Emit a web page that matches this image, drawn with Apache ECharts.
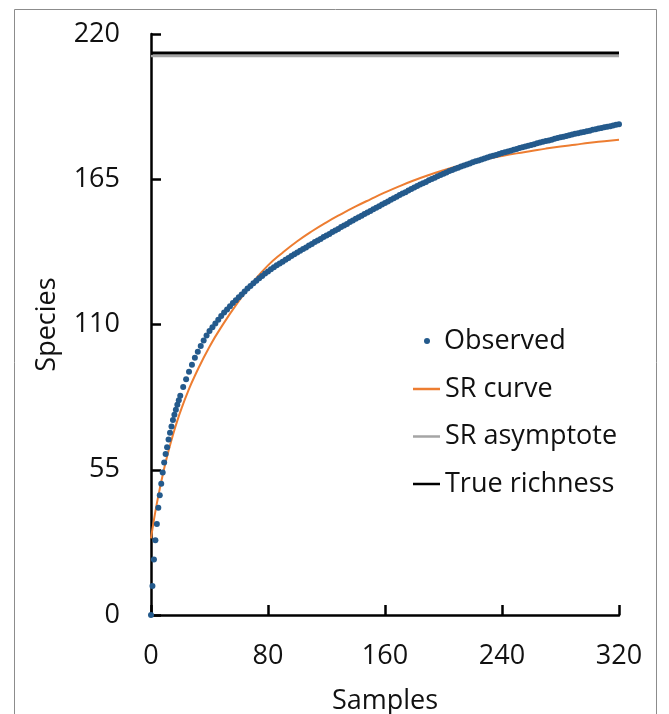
<!DOCTYPE html>
<html>
<head>
<meta charset="utf-8">
<script src="https://cdn.jsdelivr.net/npm/echarts@6/dist/echarts.min.js"></script>
<style>
html,body{margin:0;padding:0;background:#fff;}
#chart{width:669px;height:714px;}
</style>
</head>
<body>
<div id="chart"></div>
<script>
// ---- data ----
var xTicks = [0, 80, 160, 240, 320];
var yTicks = [0, 55, 110, 165, 220];

var obsSamples = [0,1,2,3,4,5,6,7,8,9,10,11,12,13,14,15,16,17,18,19,20,
  22,24,26,28,30,32,34,36,38,40,42,44,46,48,50,52,54,56,58,60,62,64,66,68,70,72,74,76,78,80,
  82,84,86,88,90,92,94,96,98,100,102,104,106,108,110,112,114,116,118,120,122,124,126,128,130,
  132,134,136,138,140,142,144,146,148,150,152,154,156,158,160,162,164,166,168,170,172,174,176,178,180,
  182,184,186,188,190,192,194,196,198,200,202,204,206,208,210,212,214,216,218,220,222,224,226,228,230,
  232,234,236,238,240,242,244,246,248,250,252,254,256,258,260,262,264,266,268,270,272,274,276,278,280,
  282,284,286,288,290,292,294,296,298,300,302,304,306,308,310,312,314,316,318,320];
var obsSpecies = [0,11,21,28.3,34.5,40.6,45.3,49.7,54,57.7,61,63.5,66.5,69,71.4,73.8,75.8,77.7,79.6,81.3,83,
  86.3,89.3,92.1,94.8,97.4,99.7,101.9,103.9,105.8,107.5,109,110.4,111.8,113.2,114.5,115.7,116.9,118.1,119.2,120.3,
  121.4,122.5,123.6,124.6,125.6,126.6,127.5,128.4,129.3,130.1,
  130.9,131.7,132.4,133.1,133.8,134.5,135.2,135.9,136.6,137.3,137.9,138.6,139.2,139.9,140.5,141.2,141.8,142.4,143.1,143.7,
  144.3,145,145.6,146.2,146.9,147.5,148.1,148.8,149.4,150,150.6,151.2,151.8,152.4,153,
  153.6,154.2,154.8,155.4,156,156.6,157.2,157.8,158.4,159,159.6,160.1,160.7,161.3,161.9,
  162.4,163,163.5,164,164.6,165.1,165.6,166.1,166.6,167.1,167.6,168.1,168.5,169,169.4,
  169.8,170.2,170.6,171,171.4,171.8,172.1,172.5,172.9,173.2,173.6,173.9,174.2,174.6,174.9,
  175.2,175.5,175.8,176.2,176.5,176.8,177.1,177.4,177.7,178,178.3,178.6,178.9,179.2,179.5,
  179.7,180,180.3,180.6,180.9,181.1,181.4,181.7,181.9,182.2,182.4,182.7,182.9,183.2,183.4,
  183.7,183.9,184.2,184.4,184.7,184.9,185.1,185.4,185.6,185.8];

var srSamples = [0,2,4,6,8,10,12,15,18,21,25,30,40,50,60,70,80,90,100,110,120,130,140,150,160,
  170,180,190,200,210,220,230,240,250,260,270,280,290,300,310,320];
var srSpecies = [29,36,42.2,47.8,53,57.8,62.2,68.2,73.6,78.4,84.2,90.6,101.6,110.7,118.8,126.2,132.4,137.2,141.5,145.3,148.7,151.8,154.7,157.4,160,
  162.4,164.6,166.6,168.4,170,171.4,172.7,173.8,174.8,175.7,176.6,177.4,178.1,178.8,179.4,180];

var lineSamples = [0, 320];
var asymptoteSpecies = [211.7, 211.7];
var trueRichnessSpecies = [212.8, 212.8];

var seriesNames = ['Observed', 'SR curve', 'SR asymptote', 'True richness'];
var xName = 'Samples';
var yName = 'Species';

function pairs(xs, ys){ return xs.map(function(x,i){ return [x, ys[i]]; }); }

var FONT = '"Open Sans", "DejaVu Sans", sans-serif';
var TXT = '#111';

var chart = echarts.init(document.getElementById('chart'), null, {renderer:'canvas'});
chart.setOption({
  animation: false,
  backgroundColor: '#fff',
  graphic: [{
    type: 'rect', silent: true, z: -1,
    shape: {x: 14.5, y: 9.5, width: 642, height: 720},
    style: {fill: 'none', stroke: '#8c8c8c', lineWidth: 1}
  }],
  grid: {left: 151, top: 34, width: 468, height: 581, containLabel: false, outerBoundsMode: 'none'},
  legend: [{
    data: [seriesNames[0]],
    orient: 'vertical', left: 419, top: 321,
    icon: 'circle', itemWidth: 6, itemHeight: 6,
    textStyle: {fontFamily: FONT, fontSize: 27, color: TXT, lineHeight: 30, padding: [0,0,0,9]},
    selectedMode: false
  },{
    data: seriesNames.slice(1),
    orient: 'vertical', left: 408, top: 369,
    icon: 'rect', itemWidth: 27, itemHeight: 2.5, itemGap: 17.5,
    textStyle: {fontFamily: FONT, fontSize: 27, color: TXT, lineHeight: 30},
    selectedMode: false
  }],
  xAxis: {
    type: 'value', min: xTicks[0], max: xTicks[xTicks.length-1], interval: xTicks[1]-xTicks[0],
    name: xName, nameLocation: 'middle', nameGap: 73,
    nameTextStyle: {fontFamily: FONT, fontSize: 27, color: TXT},
    axisLine: {lineStyle: {color: '#000', width: 2.5}},
    axisTick: {inside: true, length: 10, lineStyle: {color: '#000', width: 2.5}},
    axisLabel: {fontFamily: FONT, fontSize: 27, color: TXT, margin: 28},
    splitLine: {show: false}
  },
  yAxis: {
    type: 'value', min: yTicks[0], max: yTicks[yTicks.length-1], interval: yTicks[1]-yTicks[0],
    name: yName, nameLocation: 'middle', nameGap: 90,
    nameTextStyle: {fontFamily: FONT, fontSize: 27, color: TXT},
    axisLine: {lineStyle: {color: '#000', width: 2.5}},
    axisTick: {inside: true, length: 10, lineStyle: {color: '#000', width: 2.5}},
    axisLabel: {fontFamily: FONT, fontSize: 27, color: TXT, margin: 31},
    splitLine: {show: false}
  },
  series: [{
    name: seriesNames[1], type: 'line', smooth: true, showSymbol: false, symbol: 'none',
    data: pairs(srSamples, srSpecies), z: 2,
    lineStyle: {color: '#ED7D31', width: 2}, itemStyle: {color: '#ED7D31'}
  },{
    name: seriesNames[2], type: 'line', showSymbol: false, symbol: 'none',
    data: pairs(lineSamples, asymptoteSpecies), z: 2,
    lineStyle: {color: '#A5A5A5', width: 2.5}, itemStyle: {color: '#A5A5A5'}
  },{
    name: seriesNames[3], type: 'line', showSymbol: false, symbol: 'none',
    data: pairs(lineSamples, trueRichnessSpecies), z: 3,
    lineStyle: {color: '#000000', width: 3}, itemStyle: {color: '#000000'}
  },{
    name: seriesNames[0], type: 'scatter', symbolSize: 6,
    data: pairs(obsSamples, obsSpecies), z: 4,
    itemStyle: {color: '#245A8C', opacity: 1}
  }]
});
</script>
</body>
</html>
